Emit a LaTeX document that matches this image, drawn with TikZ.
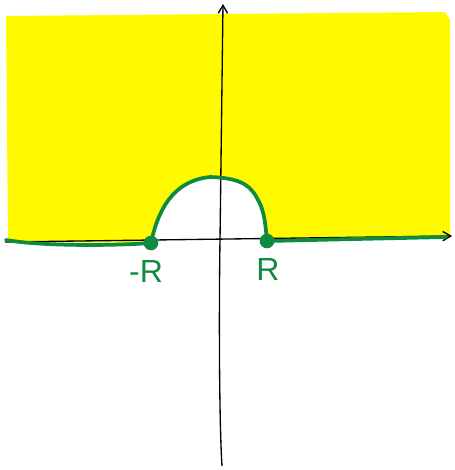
\documentclass[tikz,border=0pt]{standalone}
\usepackage{fontspec}
\setmainfont{Liberation Sans}
\usetikzlibrary{arrows.meta}
\definecolor{hl}{RGB}{255,250,0}
\definecolor{gr}{RGB}{16,138,62}
\begin{document}
\begin{tikzpicture}[x=0.75pt,y=-0.75pt,
  axis/.style={draw=black,line width=1pt,-{Straight Barb[length=6pt,width=7pt]}},
  contour/.style={draw=gr,line width=2.8pt,line cap=round,line join=round},
  dotg/.style={circle,fill=gr,inner sep=0pt,minimum size=11pt},
  lab/.style={text=gr,font=\fontsize{24}{24}\selectfont}]
\useasboundingbox (0,0) rectangle (454,470);
% yellow region
\fill[hl] (6,16) -- (445,12) -- (450,20) -- (450,238) -- (267,241)
  .. controls (264,215) and (263,205) .. (255,195)
  .. controls (248,186) and (240,180) .. (215,178)
  .. controls (190,178) and (160,195) .. (151,243)
  -- (8,242) -- cycle;
% axes
\coordinate (xl) at (5,242);
\coordinate (xr) at (452,236);
\coordinate (yb) at (222,466);
\coordinate (yt) at (223,4);
\draw[axis] (xl) -- (xr);
\draw[axis] (yb) .. controls (219,420) and (219,300) .. (220,240) -- (yt);
% contour
\node[dotg] (mR) at (151,243) {};
\node[dotg] (pR) at (267,241) {};
\coordinate (cl) at (6,240);
\coordinate (cr) at (446,237);
\draw[contour] (cl) .. controls (40,246) and (110,246) .. (mR.center)
  .. controls (160,200) and (180,180) .. (210,177)
  .. controls (240,178) and (250,185) .. (257,198)
  .. controls (264,210) and (265,220) .. (pR.center)
  -- (cr);
% labels
\node[lab] (lm) at (146,271) {-R};
\node[lab] (lp) at (268,269) {R};
\end{tikzpicture}
\end{document}
